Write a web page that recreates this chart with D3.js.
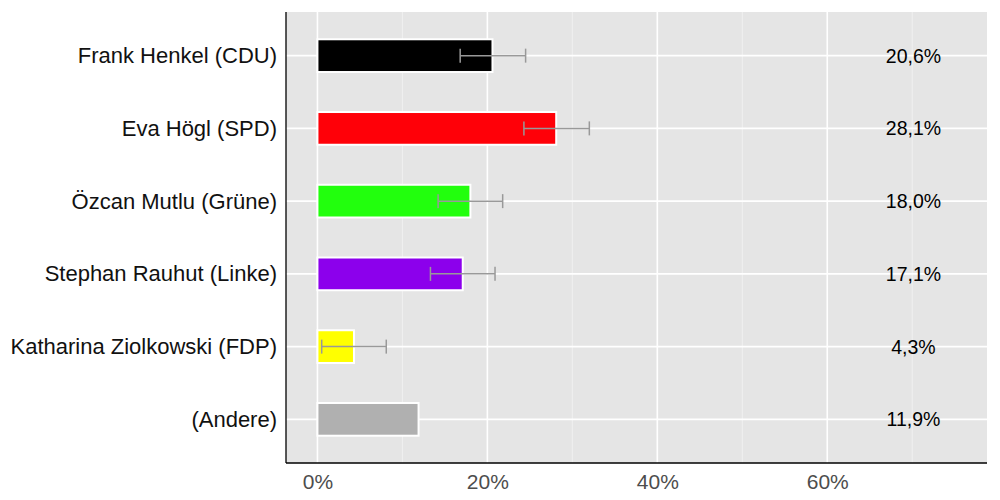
<!DOCTYPE html>
<html>
<head>
<meta charset="utf-8">
<script src="https://cdn.jsdelivr.net/npm/d3@7"></script>
<style>
  body { margin: 0; background: #fff; }
  text { font-family: "Liberation Sans", Arial, Helvetica, sans-serif; }
</style>
</head>
<body>
<svg id="chart" width="1000" height="500"></svg>
<script>
const candidates = ["Frank Henkel (CDU)", "Eva Högl (SPD)", "Özcan Mutlu (Grüne)",
  "Stephan Rauhut (Linke)", "Katharina Ziolkowski (FDP)", "(Andere)"];
const shares = [20.6, 28.1, 18.0, 17.1, 4.3, 11.9];
const lower = [16.8, 24.3, 14.2, 13.3, 0.5, null];
const upper = [24.5, 32.0, 21.8, 20.9, 8.1, null];
const colors = ["#000000", "#ff0008", "#22ff0d", "#8c00ec", "#ffff00", "#b0b0b0"];
const shareLabels = ["20,6%", "28,1%", "18,0%", "17,1%", "4,3%", "11,9%"];
const majorTicks = [0, 20, 40, 60];
const minorTicks = [10, 30, 50, 70];

const rows = candidates.map((name, i) => ({
  name, value: shares[i], lo: lower[i], hi: upper[i], color: colors[i], label: shareLabels[i]
}));

const svg = d3.select("#chart");
const pLeft = 286, pRight = 987, pTop = 12, pBottom = 463;

const x = d3.scaleLinear().domain([-3.7, 78.8]).range([pLeft, pRight]);
// discrete scale with 0.6 expansion on each side, as ggplot does
const y = d3.scaleLinear().domain([-0.6, candidates.length - 0.4]).range([pTop, pBottom]);
const barH = (y(1) - y(0)) * 0.45;

svg.append("rect")
  .attr("x", pLeft).attr("y", pTop)
  .attr("width", pRight - pLeft).attr("height", pBottom - pTop)
  .attr("fill", "#e5e5e5");

svg.append("g").selectAll("line")
  .data(minorTicks)
  .enter().append("line")
  .attr("x1", d => x(d)).attr("x2", d => x(d))
  .attr("y1", pTop).attr("y2", pBottom)
  .attr("stroke", "#f0f0f0").attr("stroke-width", 1);

svg.append("g").selectAll("line")
  .data(majorTicks)
  .enter().append("line")
  .attr("x1", d => x(d)).attr("x2", d => x(d))
  .attr("y1", pTop).attr("y2", pBottom)
  .attr("stroke", "#fff").attr("stroke-width", 1.6);

svg.append("g").selectAll("line")
  .data(candidates)
  .enter().append("line")
  .attr("x1", pLeft).attr("x2", pRight)
  .attr("y1", (d, i) => y(i)).attr("y2", (d, i) => y(i))
  .attr("stroke", "#fff").attr("stroke-width", 1.6);

// bars
svg.append("g").selectAll("rect")
  .data(rows)
  .enter().append("rect")
  .attr("x", x(0))
  .attr("y", (d, i) => y(i) - barH / 2)
  .attr("width", d => x(d.value) - x(0))
  .attr("height", barH)
  .attr("fill", d => d.color)
  .attr("stroke", "#fff").attr("stroke-width", 2);

// error bars
const err = svg.append("g")
  .attr("stroke", "#999").attr("stroke-width", 1.5)
  .selectAll("g")
  .data(rows.map((d, i) => ({ ...d, i })).filter(d => d.lo != null))
  .enter().append("g");
err.append("line")
  .attr("x1", d => x(d.lo)).attr("x2", d => x(d.hi))
  .attr("y1", d => y(d.i)).attr("y2", d => y(d.i));
err.append("line")
  .attr("x1", d => x(d.lo)).attr("x2", d => x(d.lo))
  .attr("y1", d => y(d.i) - 7).attr("y2", d => y(d.i) + 7);
err.append("line")
  .attr("x1", d => x(d.hi)).attr("x2", d => x(d.hi))
  .attr("y1", d => y(d.i) - 7).attr("y2", d => y(d.i) + 7);

// value labels
svg.append("g").selectAll("text")
  .data(rows)
  .enter().append("text")
  .attr("x", 913.5)
  .attr("y", (d, i) => y(i))
  .attr("dy", "0.36em")
  .attr("text-anchor", "middle")
  .attr("font-size", 19.5)
  .attr("fill", "#000")
  .text(d => d.label);

// axes
const yAxis = d3.axisLeft(d3.scalePoint().domain(candidates).range([y(0), y(candidates.length - 1)]))
  .tickSize(0).tickPadding(9);
svg.append("g")
  .attr("transform", `translate(${pLeft},0)`)
  .call(yAxis)
  .call(g => g.select(".domain").attr("d", `M0,${pTop}V${pBottom}`).attr("stroke", "#000").attr("stroke-width", 1.3))
  .call(g => g.selectAll("text").attr("font-size", 22).attr("fill", "#111")
    .attr("font-family", "'Liberation Sans', Arial, sans-serif"));

const xAxis = d3.axisBottom(x).tickValues(majorTicks).tickFormat(d => d + "%")
  .tickSize(0).tickPadding(11);
svg.append("g")
  .attr("transform", `translate(0,${pBottom})`)
  .call(xAxis)
  .call(g => g.select(".domain").attr("d", `M${pLeft},0H${pRight}`).attr("stroke", "#000").attr("stroke-width", 1.3))
  .call(g => g.selectAll("text").attr("font-size", 21).attr("fill", "#4d4d4d")
    .attr("font-family", "'Liberation Sans', Arial, sans-serif"));
</script>
</body>
</html>
